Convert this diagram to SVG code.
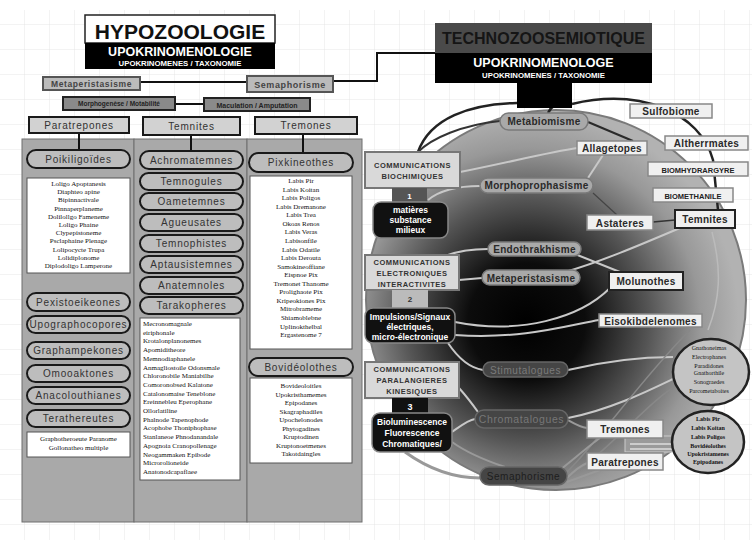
<svg xmlns="http://www.w3.org/2000/svg" width="752" height="540" viewBox="0 0 752 540">
<defs>
<pattern id="grid" width="25" height="25" patternUnits="userSpaceOnUse">
<path d="M25 0V25H0" fill="none" stroke="#e6e6e6" stroke-width="1"/>
</pattern>
<radialGradient id="dark" cx="0.43" cy="0.55" r="0.55" fx="0.42" fy="0.56">
<stop offset="0" stop-color="#000"/>
<stop offset="0.28" stop-color="#0c0c0c"/>
<stop offset="0.58" stop-color="#555"/>
<stop offset="0.82" stop-color="#989898"/>
<stop offset="1" stop-color="#b2b2b2"/>
</radialGradient>
<style>
.t{font-family:"Liberation Sans",Arial,sans-serif;text-anchor:middle}
.pill{fill:#bdbdbd;stroke:#1a1a1a;stroke-width:2}
.pl{font-size:10px;fill:#333;letter-spacing:0.8px}
.hdr{fill:#d2d2d2;stroke:#1a1a1a;stroke-width:2}
.list{fill:#fff;stroke:#555;stroke-width:1}
.li{font-family:"Liberation Serif","Times New Roman",serif;font-size:7px;fill:#111;text-anchor:middle}
.lil{font-family:"Liberation Serif","Times New Roman",serif;font-size:7px;fill:#111}
.col{fill:#a9a9a9;stroke:#6f6f6f;stroke-width:1}
.rp{fill:#a9a9a9;stroke:#7a7a7a;stroke-width:1.5}
.rpd{fill:#454545;stroke:#666;stroke-width:1.5}
.rl{font-size:10px;font-weight:bold;fill:#2a2a2a;letter-spacing:0.3px}
.rb{fill:#f0f0f0;stroke:#888;stroke-width:1.5}
.rbk{fill:#f0f0f0;stroke:#222;stroke-width:2}
.cm{fill:#d9d9d9;stroke:#777;stroke-width:2}
.cml{font-size:7.5px;font-weight:bold;fill:#333;letter-spacing:0.5px}
.bk{fill:#111;stroke:#888;stroke-width:1.5}
.bkl{font-size:8.5px;font-weight:bold;fill:#fff}
.lc{fill:none;stroke:#c8c8c8;stroke-width:2}
.dc{fill:none;stroke:#222;stroke-width:2.5}
.k{fill:none;stroke:#111;stroke-width:2}
.cl{font-family:"Liberation Serif","Times New Roman",serif;font-size:6px;fill:#111;text-anchor:middle}
</style>
</defs>
<rect width="752" height="540" fill="#fff"/>
<rect y="10" width="752" height="530" fill="url(#grid)"/>

<!-- left panel columns -->
<rect class="col" x="22" y="139" width="112" height="383"/>
<rect class="col" x="134" y="139" width="113" height="383"/>
<rect class="col" x="247" y="139" width="115" height="383"/>

<!-- big sphere -->
<circle cx="556" cy="300" r="190" fill="url(#dark)" stroke="#7a7a7a" stroke-width="2"/>

<g id="connectors">
<!-- top left -->
<path class="k" d="M140 82H247"/>
<path class="k" d="M333 81H377V53H436"/>
<path class="k" d="M175 104H204"/>
<path class="k" d="M79 133V150"/>
<path class="k" d="M191 135V151"/>
<path class="k" d="M303 134V153"/>
<!-- outer dark arcs -->
<path class="dc" d="M418 152C430 118 470 104 517 103"/>
<path class="dc" d="M572 104C640 88 700 112 713 160L718 210"/>
<path class="dc" d="M548 113C552 104 560 102 572 104"/>
<path fill="none" stroke="#333" stroke-width="2" d="M500 121C462 125 432 138 418 152"/>
<path fill="none" stroke="#2a2a2a" stroke-width="2" d="M588 122L633 141"/>
<path fill="none" stroke="#444" stroke-width="1.2" d="M593 193L617 215"/>
<path fill="none" stroke="#333" stroke-width="1.5" d="M653 222L675 220"/>
<!-- inner light connectors -->
<path class="lc" d="M460 172C510 162 550 152 577 148"/>
<path class="lc" d="M603 155L588 178"/>
<path class="lc" d="M428 200C440 190 460 186 480 186"/>
<path class="lc" d="M680 228C640 245 600 262 565 272"/>
<path class="lc" d="M488 249C470 249 455 252 445 256"/>
<path class="lc" d="M575 254C595 262 610 268 620 272"/>
<path class="lc" d="M459 280L482 278"/>
<path class="lc" d="M455 322C520 335 580 318 610 288"/>
<path class="lc" d="M455 335C520 340 570 325 599 320"/>
<path class="lc" d="M448 343C458 358 470 368 483 370"/>
<path class="lc" d="M568 370C610 360 640 357 673 357"/>
<path class="lc" d="M568 418C610 410 650 390 675 378"/>
<path fill="none" stroke="#888" stroke-width="1.5" d="M567 472C600 440 640 380 690 330"/>
<path fill="none" stroke="#888" stroke-width="1.5" d="M565 480C610 450 650 400 676 386"/>
<path class="lc" d="M452 432C462 425 468 420 475 419"/>
<path fill="none" stroke="#999" stroke-width="3" d="M405 452C430 470 455 478 480 478"/>
<path fill="none" stroke="#999" stroke-width="2" d="M452 442C470 455 490 462 505 467"/>
<path class="lc" d="M459 388C468 398 473 405 478 412"/>
<path fill="none" stroke="#999" stroke-width="2" d="M568 420C575 424 580 427 587 428"/>
<path fill="none" stroke="#999" stroke-width="2" d="M560 470C575 458 590 445 600 438"/>
<path fill="none" stroke="#999" stroke-width="2" d="M567 478C575 470 580 466 587 463"/>
<path fill="none" stroke="#999" stroke-width="2" d="M567 482L600 470"/>
<path fill="none" stroke="#bbb" stroke-width="1.5" d="M712 232C722 270 720 300 708 330"/>
<rect x="625" y="436" width="48" height="16" fill="#9a9a9a" stroke="#ccc" stroke-width="1"/>
<path fill="none" stroke="#ddd" stroke-width="1.5" d="M630 444H673M630 449H673"/>
</g>

<!-- left header -->
<g id="hypozoologie">
<rect x="85" y="15" width="190" height="28" fill="#fff" stroke="#222" stroke-width="1.5"/>
<rect x="85" y="43" width="190" height="26" fill="#000"/>
<text class="t" x="180" y="39" font-size="21" font-weight="bold" fill="#111">HYPOZOOLOGIE</text>
<text class="t" x="180" y="56" font-size="12.5" font-weight="bold" fill="#fff">UPOKRINOMENOLOGIE</text>
<text class="t" x="180" y="66" font-size="7.8" font-weight="bold" fill="#fff">UPOKRINOMENES / TAXONOMIE</text>
</g>
<g id="metaperistasisme-top">
<rect x="43" y="77" width="97" height="13" fill="#bbb" stroke="#555" stroke-width="2"/>
<text class="t" x="91.5" y="87" font-size="8.5" font-weight="bold" fill="#444" letter-spacing="0.6">Metaperistasisme</text>
</g>
<g id="semaphorisme-top">
<rect x="247" y="76" width="86" height="16" fill="#bbb" stroke="#555" stroke-width="2"/>
<text class="t" x="290" y="87.5" font-size="9" font-weight="bold" fill="#444" letter-spacing="0.6">Semaphorisme</text>
</g>
<g id="morphogenese">
<rect x="63" y="97" width="112" height="13" fill="#8a8a8a" stroke="#222" stroke-width="2"/>
<text class="t" x="119" y="106" font-size="6.5" font-weight="bold" fill="#222">Morphogenèse  /  Motabilité</text>
</g>
<g id="maculation">
<rect x="204" y="98" width="106" height="13" fill="#8a8a8a" stroke="#222" stroke-width="2"/>
<text class="t" x="257" y="107.5" font-size="7" font-weight="bold" fill="#222">Maculation  /  Amputation</text>
</g>

<!-- column headers -->
<g id="h-paratrepones"><rect class="hdr" x="29" y="117" width="100" height="16"/><text class="t pl" x="79" y="128.5">Paratrepones</text></g>
<g id="h-temnites"><rect class="hdr" x="143" y="117" width="97" height="18"/><text class="t pl" x="191.5" y="129.5">Temnites</text></g>
<g id="h-tremones"><rect class="hdr" x="255" y="117" width="102" height="17"/><text class="t pl" x="306" y="129">Tremones</text></g>

<!-- left column -->
<g id="poikiligoides"><rect class="pill" x="27" y="150" width="103" height="18" rx="9"/><text class="t pl" x="78.5" y="162.5">Poikiligoïdes</text></g>
<g id="poikiligoides-list">
<rect class="list" x="27" y="178" width="103" height="95"/>
<text class="li" x="78.5" y="186">Loligo Apoptanesis</text>
<text class="li" x="78.5" y="194.2">Diaphteo apine</text>
<text class="li" x="78.5" y="202.4">Bipinnactivale</text>
<text class="li" x="78.5" y="210.6">Pinnaperplaneme</text>
<text class="li" x="78.5" y="218.8">Dolilollgo Fameneme</text>
<text class="li" x="78.5" y="227">Loligo Phaine</text>
<text class="li" x="78.5" y="235.2">Clypepistoneme</text>
<text class="li" x="78.5" y="243.4">Psclaphaine Plenage</text>
<text class="li" x="78.5" y="251.6">Lolipocycte Trupa</text>
<text class="li" x="78.5" y="259.8">Lolidiplonome</text>
<text class="li" x="78.5" y="268">Diplodoligo Lamperone</text>
</g>
<g id="pexistoeikeones"><rect class="pill" x="27" y="293" width="103" height="18" rx="9"/><text class="t pl" x="78.5" y="305.5">Pexistoeikeones</text></g>
<g id="upographocopores"><rect class="pill" x="27" y="316" width="103" height="17" rx="8.5"/><text class="t pl" x="78.5" y="328">Upographocopores</text></g>
<g id="graphampekones"><rect class="pill" x="27" y="342" width="103" height="17" rx="8.5"/><text class="t pl" x="78.5" y="354">Graphampekones</text></g>
<g id="omooaktones"><rect class="pill" x="27" y="365" width="103" height="17" rx="8.5"/><text class="t pl" x="78.5" y="377">Omooaktones</text></g>
<g id="anacolouthianes"><rect class="pill" x="27" y="387" width="103" height="17" rx="8.5"/><text class="t pl" x="78.5" y="399">Anacolouthianes</text></g>
<g id="terathereutes"><rect class="pill" x="27" y="410" width="103" height="17" rx="8.5"/><text class="t pl" x="78.5" y="422">Terathereutes</text></g>
<g id="terathereutes-list">
<rect class="list" x="27" y="432" width="103" height="25"/>
<text class="li" x="78.5" y="441" font-size="6.5">Graphotheroeute Paranome</text>
<text class="li" x="78.5" y="450" font-size="6.5">Gollonatheo multiple</text>
</g>

<!-- middle column -->
<g id="achromatemnes"><rect class="pill" x="140" y="151" width="103" height="18" rx="9"/><text class="t pl" x="191.5" y="163.5">Achromatemnes</text></g>
<g id="temnogules"><rect class="pill" x="140" y="173" width="103" height="17" rx="8.5"/><text class="t pl" x="191.5" y="185">Temnogules</text></g>
<g id="oametemnes"><rect class="pill" x="140" y="193" width="103" height="17" rx="8.5"/><text class="t pl" x="191.5" y="205">Oametemnes</text></g>
<g id="agueusates"><rect class="pill" x="140" y="214" width="103" height="17" rx="8.5"/><text class="t pl" x="191.5" y="226">Agueusates</text></g>
<g id="temnophistes"><rect class="pill" x="140" y="235" width="103" height="17" rx="8.5"/><text class="t pl" x="191.5" y="247">Temnophistes</text></g>
<g id="aptausistemnes"><rect class="pill" x="140" y="256" width="103" height="17" rx="8.5"/><text class="t pl" x="191.5" y="268">Aptausistemnes</text></g>
<g id="anatemnoles"><rect class="pill" x="140" y="277" width="103" height="17" rx="8.5"/><text class="t pl" x="191.5" y="289">Anatemnoles</text></g>
<g id="tarakopheres"><rect class="pill" x="140" y="297" width="103" height="17" rx="8.5"/><text class="t pl" x="191.5" y="309">Tarakopheres</text></g>
<g id="tarakopheres-list">
<rect class="list" x="140" y="318" width="100" height="162"/>
<text class="lil" x="143" y="326">Mecronomagnale</text>
<text class="lil" x="143" y="334.7">eiriphonale</text>
<text class="lil" x="143" y="343.4">Krotalonplanonemes</text>
<text class="lil" x="143" y="352.1">Apomiditheore</text>
<text class="lil" x="143" y="360.8">Memnodiaphanele</text>
<text class="lil" x="143" y="369.5">Anmagliostoile Odonsmale</text>
<text class="lil" x="143" y="378.2">Chloronobile Maniabilhe</text>
<text class="lil" x="143" y="386.9">Comoronobsed Kalatone</text>
<text class="lil" x="143" y="395.6">Catalonomaise Teneblone</text>
<text class="lil" x="143" y="404.3">Ereinnebleu Eperophane</text>
<text class="lil" x="143" y="413">Ollorlatiline</text>
<text class="lil" x="143" y="421.7">Phalnode Tapenophode</text>
<text class="lil" x="143" y="430.4">Acophobe Thoniphophase</text>
<text class="lil" x="143" y="439.1">Stanlaneoe Phnodanandale</text>
<text class="lil" x="143" y="447.8">Apognoia Cranopollenage</text>
<text class="lil" x="143" y="456.5">Neogammaken Epibode</text>
<text class="lil" x="143" y="465.2">Microrolioneide</text>
<text class="lil" x="143" y="473.9">Anatonodcapaflaee</text>
</g>

<!-- right column -->
<g id="pixkineothes"><rect class="pill" x="249" y="153" width="104" height="19" rx="9.5"/><text class="t pl" x="301" y="166">Pixkineothes</text></g>
<g id="pixkineothes-list">
<rect class="list" x="250" y="176" width="102" height="173"/>
<text class="li" x="301" y="183">Labis Pir</text>
<text class="li" x="301" y="191.6">Labis Koitan</text>
<text class="li" x="301" y="200.1">Labis Poligos</text>
<text class="li" x="301" y="208.7">Labis Dremanone</text>
<text class="li" x="301" y="217.2">Labis Trea</text>
<text class="li" x="301" y="225.8">Okoas Renos</text>
<text class="li" x="301" y="234.4">Labis Veras</text>
<text class="li" x="301" y="242.9">Labisonfile</text>
<text class="li" x="301" y="251.5">Labis Odatile</text>
<text class="li" x="301" y="260">Labis Derouta</text>
<text class="li" x="301" y="268.6">Samokineoffiane</text>
<text class="li" x="301" y="277.2">Eispnoe Pix</text>
<text class="li" x="301" y="285.7">Tremonet Thanome</text>
<text class="li" x="301" y="294.3">Prolighaote Pix</text>
<text class="li" x="301" y="302.8">Kripeokiones Pix</text>
<text class="li" x="301" y="311.4">Mitrobrameme</text>
<text class="li" x="301" y="320">Shiamoblebne</text>
<text class="li" x="301" y="328.5">Uplinokthelbal</text>
<text class="li" x="301" y="337.1">Ergastenome 7</text>
</g>
<g id="bovideolothes"><rect class="pill" x="249" y="358" width="104" height="18" rx="9"/><text class="t pl" x="301" y="370.5">Bovidéolothes</text></g>
<g id="bovideolothes-list">
<rect class="list" x="250" y="378" width="102" height="85" stroke="#222" stroke-width="1.5"/>
<text class="li" x="301" y="388">Bovideoloitles</text>
<text class="li" x="301" y="396.5">Upokristhamemes</text>
<text class="li" x="301" y="405">Epipodanes</text>
<text class="li" x="301" y="413.5">Skagraphadiles</text>
<text class="li" x="301" y="422">Upochelonodes</text>
<text class="li" x="301" y="430.5">Phytogadines</text>
<text class="li" x="301" y="439">Kruptodinen</text>
<text class="li" x="301" y="447.5">Kruptonoetmenes</text>
<text class="li" x="301" y="456">Takotdaingles</text>
</g>

<!-- right header -->
<g id="technozoosemiotique">
<rect x="517" y="80" width="55" height="28" fill="#000"/>
<rect x="435" y="23" width="217" height="30" fill="#4a4a4a"/>
<rect x="435" y="53" width="217" height="30" fill="#000"/>
<text class="t" x="543.5" y="44" font-size="17" font-weight="bold" fill="#151515" textLength="203" lengthAdjust="spacingAndGlyphs">TECHNOZOOSEMIOTIQUE</text>
<text class="t" x="543.5" y="67" font-size="12.5" font-weight="bold" fill="#fff">UPOKRINOMENOLOGE</text>
<text class="t" x="543.5" y="78" font-size="7.8" font-weight="bold" fill="#fff">UPOKRINOMENES / TAXONOMIE</text>
</g>

<!-- sphere nodes -->
<g id="metabiomisme"><rect class="rp" x="500" y="113" width="88" height="17" rx="8.5"/><text class="t rl" x="544" y="125">Metabiomisme</text></g>
<g id="sulfobiome"><rect class="rb" x="630" y="104" width="82" height="14"/><text class="t rl" x="671" y="115">Sulfobiome</text></g>
<g id="allagetopes"><rect class="rb" x="577" y="141" width="70" height="14"/><text class="t rl" x="612" y="152">Allagetopes</text></g>
<g id="altherrmates"><rect class="rb" x="665" y="136" width="83" height="14"/><text class="t rl" x="706.5" y="147">Altherrmates</text></g>
<g id="biomhydrargyre"><rect class="rb" x="648" y="162" width="100" height="14"/><text class="t" x="698" y="172.5" font-size="7.5" font-weight="bold" fill="#222">BIOMHYDRARGYRE</text></g>
<g id="biomethanile"><rect class="rb" x="653" y="188" width="80" height="14"/><text class="t" x="693" y="198.5" font-size="7.5" font-weight="bold" fill="#222">BIOMETHANILE</text></g>
<g id="morphoprophasisme"><rect class="rp" x="480" y="178" width="113" height="15" rx="7.5"/><text class="t rl" x="536.5" y="189">Morphoprophasisme</text></g>
<g id="astateres"><rect class="rb" x="587" y="215" width="66" height="15"/><text class="t rl" x="620" y="226.5">Astateres</text></g>
<g id="temnites-r"><rect class="rbk" x="675" y="210" width="60" height="18"/><text class="t rl" x="705" y="223">Temnites</text></g>
<g id="endothrakhisme"><rect class="rp" x="488" y="242" width="93" height="14" rx="7"/><text class="t rl" x="534.5" y="253">Endothrakhisme</text></g>
<g id="metaperistasisme-r"><rect class="rp" x="482" y="270" width="98" height="15" rx="7.5"/><text class="t rl" x="531" y="281.5" font-size="9.5">Metaperistasisme</text></g>
<g id="molunothes"><rect class="rbk" x="609" y="272" width="74" height="18"/><text class="t rl" x="646" y="285">Molunothes</text></g>
<g id="eisokibdelenomes"><rect class="rb" x="599" y="314" width="103" height="13"/><text class="t rl" x="650.5" y="324.5">Eisokibdelenomes</text></g>
<g id="stimutalogues"><rect class="rpd" x="483" y="362" width="85" height="15" rx="7.5"/><text class="t" x="525.5" y="373.5" font-size="10" fill="#7a7a7a" letter-spacing="0.6">Stimutalogues</text></g>
<g id="chromatalogues"><rect class="rpd" x="475" y="410" width="93" height="18" rx="9"/><text class="t" x="521.5" y="423" font-size="10.5" fill="#777" letter-spacing="0.6">Chromatalogues</text></g>
<g id="semaphorisme-r"><rect class="rpd" x="480" y="467" width="87" height="18" rx="9"/><text class="t" x="523.5" y="480" font-size="10" fill="#1e1e1e" letter-spacing="0.5">Semaphorisme</text></g>
<g id="tremones-r"><rect class="rb" x="587" y="420" width="76" height="18"/><text class="t rl" x="625" y="433">Tremones</text></g>
<g id="paratrepones-r"><rect class="rb" x="587" y="453" width="76" height="17"/><text class="t rl" x="625" y="465.5">Paratrepones</text></g>

<!-- communications -->
<g id="comm-biochimiques">
<rect class="cm" x="365" y="152" width="95" height="36"/>
<text class="t cml" x="412.5" y="168">COMMUNICATIONS</text>
<text class="t cml" x="412.5" y="179">BIOCHIMIQUES</text>
<rect x="392" y="188" width="35" height="14" fill="#555"/>
<text class="t" x="409.5" y="198.5" font-size="8" font-weight="bold" fill="#fff">1</text>
</g>
<g id="matieres">
<rect class="bk" x="373" y="202" width="75" height="36" rx="8"/>
<text class="t bkl" x="410.5" y="213">matières</text>
<text class="t bkl" x="410.5" y="223">substance</text>
<text class="t bkl" x="410.5" y="233">milieux</text>
</g>
<g id="comm-electroniques">
<rect class="cm" x="365" y="255" width="94" height="35"/>
<text class="t cml" x="412" y="265">COMMUNICATIONS</text>
<text class="t cml" x="412" y="276">ELECTRONIQUES</text>
<text class="t cml" x="412" y="287">INTERACTIVITES</text>
<rect x="392" y="290" width="36" height="18" fill="#bbb"/>
<text class="t" x="410" y="302" font-size="8" font-weight="bold" fill="#333">2</text>
</g>
<g id="impulsions">
<rect class="bk" x="365" y="308" width="90" height="35" rx="8"/>
<text class="t bkl" x="410" y="319.5">Impulsions/Signaux</text>
<text class="t bkl" x="410" y="329.5">électriques,</text>
<text class="t bkl" x="410" y="339.5">micro-électronique</text>
</g>
<g id="comm-paralangieres">
<rect class="cm" x="365" y="362" width="94" height="36"/>
<text class="t cml" x="412" y="371.5">COMMUNICATIONS</text>
<text class="t cml" x="412" y="383">PARALANGIERES</text>
<text class="t cml" x="412" y="394">KINESIQUES</text>
<rect x="392" y="398" width="36" height="15" fill="#111"/>
<text class="t" x="410" y="409.5" font-size="9" font-weight="bold" fill="#fff">3</text>
</g>
<g id="bioluminescence">
<rect class="bk" x="372" y="413" width="80" height="39" rx="8"/>
<text class="t bkl" x="412" y="425">Bioluminescence</text>
<text class="t bkl" x="412" y="436">Fluorescence</text>
<text class="t bkl" x="412" y="447">Chromatiques/</text>
</g>

<!-- circles -->
<g id="circle-gnathoneimas">
<ellipse cx="711" cy="372" rx="38" ry="33" fill="#c4c4c4" stroke="#222" stroke-width="2.5"/>
<text class="cl" x="709" y="350">Gnathoneimas</text>
<text class="cl" x="709" y="359">Electrophanes</text>
<text class="cl" x="709" y="368">Paradidones</text>
<text class="cl" x="709" y="375">Gnathorthile</text>
<text class="cl" x="709" y="384">Sonograedes</text>
<text class="cl" x="709" y="393">Parcometaboites</text>
</g>
<g id="circle-labis">
<ellipse cx="708" cy="442" rx="36" ry="31" fill="#c4c4c4" stroke="#222" stroke-width="2.5"/>
<text class="cl" x="708" y="421" font-weight="bold">Labis Pir</text>
<text class="cl" x="708" y="430" font-weight="bold">Labis Koitan</text>
<text class="cl" x="708" y="439" font-weight="bold">Labis Poligos</text>
<text class="cl" x="708" y="448" font-weight="bold">Bovidéolothes</text>
<text class="cl" x="708" y="456" font-weight="bold">Upokristamenes</text>
<text class="cl" x="708" y="464" font-weight="bold">Epipodanes</text>
</g>
</svg>
